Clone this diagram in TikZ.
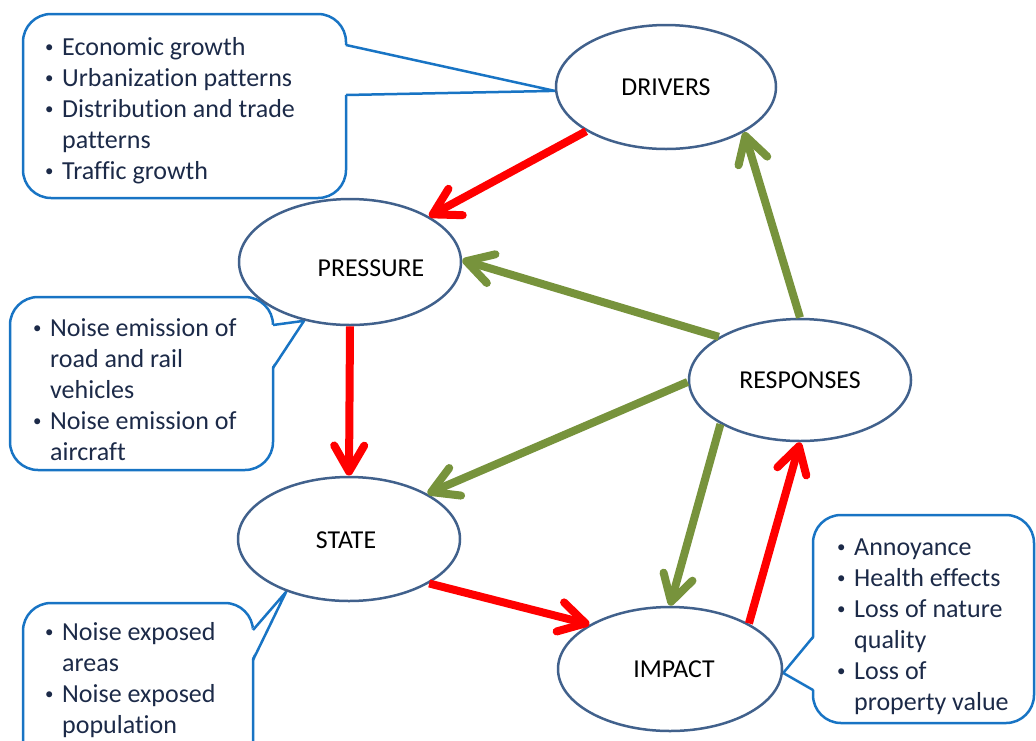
\documentclass[tikz,border=0pt]{standalone}
\usepackage{fontspec}
\usepackage{graphicx}
\setmainfont{Carlito}[Ligatures=NoCommon]
\usetikzlibrary{arrows.meta,shapes.geometric}
\definecolor{ellborder}{HTML}{41618C}
\definecolor{callblue}{HTML}{1874C4}
\definecolor{arrred}{HTML}{FF0000}
\definecolor{arrgreen}{HTML}{77933C}
\definecolor{txtnavy}{HTML}{1C2A48}
\newcommand{\bul}{\makebox[19pt][l]{\hspace{2pt}\raisebox{2.5pt}{\scalebox{0.65}{\textbullet}}}}
\newcommand{\nobul}{\hspace*{19pt}}
\tikzset{
  ell/.style={ellipse, draw=ellborder, line width=2.5pt, inner sep=0pt},
  lbl/.style={font=\fontsize{25.8}{30}\selectfont, text=black, inner sep=0pt},
  callbox/.style={draw=callblue, line width=2.5pt, rounded corners=28pt, inner sep=0pt},
  calltail/.style={draw=callblue, line width=2.5pt, line join=round},
  ctext/.style={font=\fontsize{26}{31}\selectfont, text=txtnavy, inner sep=0pt, anchor=base west},
  redarr/.style={draw=arrred, line width=8pt, -{Straight Barb[length=26pt,width=30pt,round]}},
  greenarr/.style={draw=arrgreen, line width=8pt, -{Straight Barb[length=26pt,width=30pt,round]}},
}
\begin{document}
\begin{tikzpicture}[x=1pt,y=-1pt]
\useasboundingbox (0,0) rectangle (1036,740);

% callout boxes
\node[callbox, minimum width=323pt, minimum height=184pt] (c1) at (184.5,106) {};
\node[callbox, minimum width=263pt, minimum height=173pt] (c2) at (141.5,383.5) {};
\node[callbox, minimum width=230pt, minimum height=172pt] (c3) at (138,689) {};
\node[callbox, minimum width=221pt, minimum height=208pt] (c4) at (923.5,619) {};

% ellipse positions (invisible, for references)
\node[ellipse, inner sep=0pt, minimum width=222.5pt, minimum height=126.5pt] (D) at (666,87) {};
\node[ellipse, inner sep=0pt, minimum width=224.5pt, minimum height=128.5pt] (P) at (350,262) {};
\node[ellipse, inner sep=0pt, minimum width=224.5pt, minimum height=124.5pt] (R) at (800,380) {};
\node[ellipse, inner sep=0pt, minimum width=224.5pt, minimum height=126.5pt] (S) at (349,539) {};
\node[ellipse, inner sep=0pt, minimum width=226.5pt, minimum height=126.5pt] (I) at (670,669) {};

% callout tails
\fill[white] (344,45) -- (D.182) -- (344,95) -- cycle;
\draw[calltail] (346,45) -- (D.182) -- (346,95);
\fill[white] (271,325) -- (P.232) -- (271,368) -- cycle;
\draw[calltail] (273,325) -- (P.232) -- (273,368);
\fill[white] (251,630) -- (S.220) -- (251,660) -- cycle;
\draw[calltail] (253,630) -- (S.220) -- (253,660);
\fill[white] (815,637) -- (I.358) -- (815,690) -- cycle;
\draw[calltail] (813,637) -- (I.358) -- (813,690);

% visible ellipses
\node[ell, minimum width=220pt, minimum height=124pt] (De) at (D) {};
\node[ell, minimum width=222pt, minimum height=126pt] (Pe) at (P) {};
\node[ell, minimum width=222pt, minimum height=122pt] (Re) at (R) {};
\node[ell, minimum width=222pt, minimum height=124pt] (Se) at (S) {};
\node[ell, minimum width=224pt, minimum height=124pt] (Ie) at (I) {};

% callout texts
\node[ctext] (t1) at (43,55) {\begin{tabular}[t]{@{}l@{}}
\bul Economic growth\\
\bul Urbanization patterns\\
\bul Distribution and trade\\
\nobul patterns\\
\bul Traffic growth
\end{tabular}};
\node[ctext] (t2) at (31,336) {\begin{tabular}[t]{@{}l@{}}
\bul Noise emission of\\
\nobul road and rail\\
\nobul vehicles\\
\bul Noise emission of\\
\nobul aircraft
\end{tabular}};
\node[ctext] (t3) at (43,640) {\begin{tabular}[t]{@{}l@{}}
\bul Noise exposed\\
\nobul areas\\
\bul Noise exposed\\
\nobul population
\end{tabular}};
\node[ctext] (t4) at (835,555) {\begin{tabular}[t]{@{}l@{}}
\bul Annoyance\\
\bul Health effects\\
\bul Loss of nature\\
\nobul quality\\
\bul Loss of\\
\nobul property value
\end{tabular}};

% labels
\node[lbl] (lD) at (666,87) {DRIVERS};
\node[lbl] (lP) at (371,268) {PRESSURE};
\node[lbl] (lR) at (800,380) {RESPONSES};
\node[lbl] (lS) at (346,540) {STATE};
\node[lbl] (lI) at (674,669) {IMPACT};

% arrows
\draw[redarr] (D.209) -- (P.30);
\draw[redarr] (P.270) -- (S.90);
\draw[redarr] (S.-29) -- (I.151);
\draw[redarr] (I.30.5) -- (R.270);
\draw[greenarr] (R.90) -- (D.-30);
\draw[greenarr] (R.152) -- (P.1.5);
\draw[greenarr] (R.181) -- (S.30);
\draw[greenarr] (R.209) -- (I.90);
\end{tikzpicture}
\end{document}
